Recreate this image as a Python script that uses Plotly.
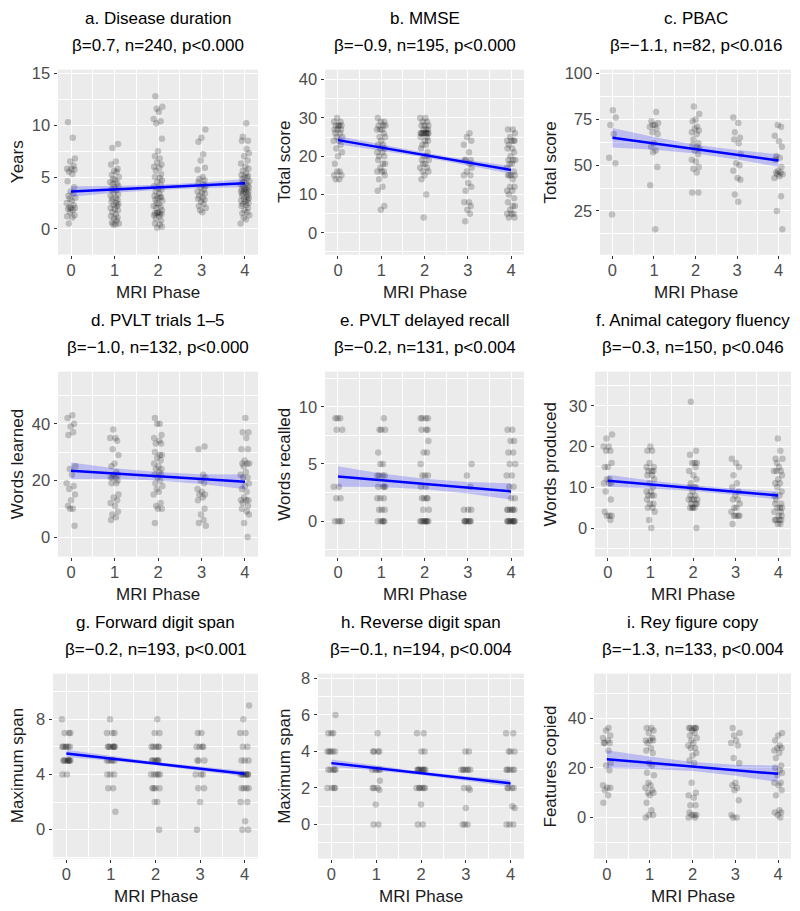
import plotly.graph_objects as go

W, H = 800, 911
CELL_H = H / 3

# values: one list per MRI phase (0..4)
DURATION = [
    [10.3, 8.8, 6.8, 6.5, 6.1, 5.8, 5.8, 5.7, 5.5, 5.3, 4.6, 4.0, 3.6, 3.4, 3.2, 3.0, 2.9, 2.7, 2.5, 2.3,
     2.1, 2.0, 2.0, 1.9, 1.8, 1.6, 1.3, 1.2, 1.1, 0.5],
    [8.2, 7.8, 6.5, 6.2, 5.8, 5.6, 5.5, 5.2, 5.0, 4.8, 4.7, 4.5, 4.4, 4.3, 4.1, 4.0, 3.8, 3.7, 3.5, 3.3,
     3.2, 3.0, 2.9, 2.8, 2.6, 2.5, 2.4, 2.3, 2.2, 2.0, 1.9, 1.8, 1.6, 1.4, 1.2, 1.1, 1.0, 0.8, 0.6, 0.5,
     0.4, 0.4],
    [12.8, 11.8, 11.6, 11.3, 10.6, 10.4, 10.2, 8.7, 7.5, 7.0, 6.8, 6.4, 6.2, 6.0, 5.9, 5.6, 5.3, 5.0, 4.9,
     4.7, 4.5, 4.3, 4.1, 3.9, 3.8, 3.6, 3.4, 3.2, 3.1, 3.0, 3.0, 2.8, 2.7, 2.5, 2.4, 2.2, 2.1, 2.0, 1.8,
     1.6, 1.5, 1.5, 1.5, 1.4, 1.3, 1.2, 1.0, 0.8, 0.5, 0.4, 0.2, 0.1],
    [9.6, 8.8, 8.4, 7.2, 6.6, 5.9, 5.7, 5.0, 4.8, 4.7, 4.5, 4.3, 4.1, 4.0, 3.8, 3.6, 3.5, 3.4, 3.2, 3.0,
     2.9, 2.8, 2.6, 2.4, 2.2, 2.0, 1.8, 1.6],
    [10.2, 8.9, 8.5, 8.5, 7.7, 7.3, 7.0, 6.6, 6.3, 6.0, 5.8, 5.6, 5.4, 5.2, 5.1, 5.0, 4.9, 4.8, 4.6, 4.5,
     4.4, 4.3, 4.2, 4.1, 4.0, 3.9, 3.8, 3.8, 3.7, 3.6, 3.6, 3.5, 3.4, 3.3, 3.2, 3.1, 3.0, 2.9, 2.8, 2.7,
     2.6, 2.5, 2.4, 2.3, 2.2, 2.0, 1.8, 1.6, 1.5, 1.3, 1.1, 0.9, 0.5],
]
MMSE = [
    [30, 29, 29, 28, 28, 28, 28, 27, 27, 27, 26, 26, 25, 25, 24, 24, 23, 22, 21, 20, 18, 16, 16, 15, 15, 14, 14],
    [30, 29, 29, 28, 28, 28, 27, 27, 27, 26, 25, 25, 24, 23, 23, 22, 22, 21, 21, 20, 20, 19, 18, 18, 17, 16,
     16, 16, 15, 14, 12, 11, 7, 6],
    [30, 30, 29, 29, 28, 28, 28, 27, 27, 27, 26, 26, 26, 26, 26, 26, 26, 26, 25, 25, 24, 24, 23, 23, 22, 21,
     20, 20, 19, 19, 18, 18, 17, 17, 16, 16, 15, 14, 10, 4],
    [26, 25, 24, 23, 21, 19, 19, 19, 18, 17, 16, 15, 15, 13, 12, 11, 8, 8, 7, 6, 5, 3],
    [27, 27, 26, 25, 24, 24, 24, 24, 23, 22, 22, 21, 20, 19, 19, 19, 18, 18, 17, 16, 15, 15, 15, 15, 14, 12,
     12, 11, 11, 10, 9, 8, 7, 7, 6, 5, 5, 5, 4, 4],
]
PBAC = [
    [80, 76, 72, 67, 54, 51, 23],
    [79, 74, 73, 72, 72, 71, 70, 68, 67, 62, 60, 58, 57, 49, 39, 15],
    [82, 78, 75, 74, 71, 70, 69, 68, 67, 64, 62, 61, 60, 59, 58, 56, 53, 52, 49, 48, 46, 35, 35],
    [76, 73, 68, 65, 64, 62, 56, 51, 50, 47, 43, 42, 34, 30],
    [72, 71, 66, 63, 60, 55, 54, 53, 49, 47, 46, 46, 45, 45, 44, 43, 33, 25, 15],
]
PVLT_LEARN = [
    [43, 42, 40, 39, 37, 36, 25, 24, 22, 19, 18, 17, 15, 13, 11, 10, 10, 4],
    [38, 35, 35, 34, 31, 29, 26, 25, 23, 22, 22, 21, 21, 21, 20, 19, 19, 15, 14, 13, 12, 11, 9, 8, 7, 6],
    [42, 40, 40, 36, 35, 34, 33, 33, 30, 29, 29, 28, 27, 26, 25, 24, 24, 23, 22, 22, 21, 20, 19, 18, 17, 16,
     15, 12, 11, 10, 10, 5],
    [32, 31, 22, 21, 20, 19, 17, 16, 15, 15, 14, 13, 10, 8, 6, 5, 4],
    [42, 37, 37, 35, 31, 31, 27, 26, 26, 26, 25, 23, 22, 21, 21, 19, 18, 17, 16, 14, 13, 13, 13, 12, 11, 10,
     9, 8, 5, 0],
]
PVLT_RECALL = [
    [9, 9, 9, 8, 8, 3, 3, 2, 2, 0, 0, 0, 0],
    [9, 8, 8, 8, 6, 5, 5, 4, 4, 4, 4, 3, 3, 3, 3, 2, 2, 2, 1, 1, 1, 0, 0, 0, 0, 0],
    [9, 9, 9, 9, 8, 8, 8, 7, 6, 6, 5, 4, 4, 4, 3, 3, 2, 2, 2, 2, 1, 1, 0, 0, 0, 0, 0, 0, 0, 0],
    [5, 4, 3, 1, 1, 1, 0, 0, 0, 0, 0, 0, 0],
    [8, 8, 7, 7, 6, 6, 5, 5, 4, 4, 3, 3, 2, 2, 1, 1, 1, 1, 1, 1, 0, 0, 0, 0, 0, 0, 0, 0, 0],
]
FLUENCY = [
    [23, 22, 20, 20, 19, 19, 16, 15, 15, 12, 12, 11, 11, 11, 9, 7, 4, 3, 3, 3, 2],
    [20, 19, 19, 16, 15, 15, 14, 14, 14, 13, 13, 12, 11, 10, 9, 9, 8, 8, 8, 7, 6, 6, 5, 5, 4, 2, 0],
    [31, 19, 18, 16, 16, 16, 15, 14, 13, 12, 11, 10, 10, 10, 9, 8, 8, 7, 7, 7, 7, 6, 6, 6, 5, 5, 5, 5, 0],
    [17, 16, 15, 13, 11, 10, 9, 8, 7, 7, 6, 5, 5, 4, 3, 3, 3, 3, 1],
    [22, 19, 17, 17, 16, 15, 14, 14, 14, 13, 12, 11, 11, 10, 9, 8, 8, 7, 6, 6, 5, 5, 5, 4, 4, 3, 3, 2, 2,
     2, 2, 1, 1],
]
FWD_SPAN = [
    [8, 7, 7, 7, 6, 6, 6, 6, 6, 6, 5, 5, 5, 5, 5, 5, 5, 5, 4, 4],
    [8, 7, 7, 7, 6, 6, 6, 6, 6, 6, 6, 5, 5, 5, 5, 5, 4, 4, 4, 3, 3, 1.3],
    [8, 7, 7, 6, 6, 6, 6, 6, 5, 5, 5, 5, 5, 5, 4, 4, 4, 4, 4, 3, 3, 3, 3, 2, 2, 0],
    [7, 7, 6, 6, 6, 6, 5, 5, 5, 4, 4, 4, 3, 3, 2, 0],
    [9, 8, 7, 7, 6, 6, 5, 5, 5, 4, 4, 4, 4, 4, 4, 4, 3, 3, 3, 3, 2, 2, 0.6, 0, 0],
]
REV_SPAN = [
    [6, 5, 5, 5, 4, 4, 4, 4, 4, 3, 3, 3, 3, 3, 2, 2, 2, 2],
    [5, 4, 4, 4, 4, 3, 3, 3, 3, 3, 2.4, 2, 2, 2, 1.9, 1.1, 0, 0],
    [5, 5, 4, 4, 3, 3, 3, 3, 3, 3, 3, 3, 2, 2, 2, 2, 2, 2, 1.1, 0, 0],
    [4, 4, 3, 3, 3, 3, 3, 3, 2, 2, 1.9, 0.9, 0, 0, 0],
    [5, 5, 4, 4, 4, 3, 3, 3, 3, 3, 2, 2, 2, 2, 1, 0.9, 0, 0, 0],
]
REY_COPY = [
    [36, 35, 33, 32, 31, 30, 30, 30, 27, 22, 21, 19, 13, 12, 12, 11, 9, 6],
    [36, 36, 35, 34, 32, 31, 31, 31, 30, 28, 27, 26, 22, 21, 18, 17, 14, 13, 12, 11, 10, 10, 9, 6, 3, 1, 1, 0],
    [36, 36, 36, 36, 36, 35, 34, 33, 32, 31, 30, 29, 28, 28, 26, 25, 23, 22, 14, 10, 9, 8, 5, 5, 2, 1, 1, 1,
     0, 0],
    [36, 34, 33, 31, 30, 29, 24, 22, 14, 13, 12, 11, 7, 1, 0, 0],
    [34, 33, 31, 29, 28, 28, 27, 26, 24, 21, 20, 19, 18, 17, 14, 14, 13, 11, 9, 3, 2, 2, 1, 0],
]

# horizontal jitter offsets (phase units)
JITTER = [-0.07, 0.04, 0.09, -0.02, 0.06, -0.09, 0.01, 0.08, -0.05, 0.03, -0.08, 0.07, -0.01, 0.05, -0.06,
          0.10, -0.03, 0.02, -0.10, 0.06, -0.04, 0.09, 0.00, -0.07, 0.04, -0.02, 0.08, -0.09, 0.03, -0.05, 0.07]

PHASES = [0, 1, 2, 3, 4]
TITLES = ["a. Disease duration", "b. MMSE", "c. PBAC", "d. PVLT trials 1–5", "e. PVLT delayed recall",
          "f. Animal category fluency", "g. Forward digit span", "h. Reverse digit span", "i. Rey figure copy"]
STATS = ["β=0.7, n=240, p<0.000", "β=−0.9, n=195, p<0.000", "β=−1.1, n=82, p<0.016",
         "β=−1.0, n=132, p<0.000", "β=−0.2, n=131, p<0.004", "β=−0.3, n=150, p<0.046",
         "β=−0.2, n=193, p<0.001", "β=−0.1, n=194, p<0.004", "β=−1.3, n=133, p<0.004"]
Y_TITLES = ["Years", "Total score", "Total score", "Words learned", "Words recalled", "Words produced",
            "Maximum span", "Maximum span", "Features copied"]

# fitted line at phase 0 and phase 4, and CI half-width at each phase
FIT_START = [3.6, 24.2, 65.0, 23.4, 3.9, 11.6, 5.52, 3.36, 23.5]
FIT_END = [4.4, 16.4, 52.5, 19.5, 2.6, 8.0, 4.05, 2.25, 17.6]
CI_HALF = [
    [0.50, 0.33, 0.25, 0.27, 0.40],
    [1.1, 0.8, 0.6, 0.75, 1.0],
    [5.3, 3.5, 2.4, 2.6, 3.4],
    [2.9, 1.9, 1.5, 1.7, 2.6],
    [0.90, 0.60, 0.45, 0.50, 0.72],
    [1.5, 1.0, 0.7, 0.75, 1.0],
    [0.26, 0.17, 0.12, 0.15, 0.20],
    [0.20, 0.14, 0.10, 0.12, 0.18],
    [3.6, 2.5, 1.8, 2.2, 3.3],
]

Y_RANGES = [[-2.5, 15.38], [-5.7, 42.6], [1.1, 102.2], [-6.9, 58.4], [-3.1, 13.07], [-7.0, 38.4],
            [-2.1, 11.3], [-1.87, 8.26], [-16.5, 57.9]]
Y_DTICK = [5, 10, 25, 20, 5, 10, 4, 2, 20]

# panel pixel box (left, right); rows share top/bottom offsets inside each cell
PANEL_LEFT = [58, 325, 600, 58, 325, 595, 53, 318, 594]
PANEL_RIGHT = [258, 524, 791]
PLOT_TOP, PLOT_BOTTOM = 65, 251

FONT = "Liberation Sans, Arial, Helvetica, sans-serif"
DATASETS = [DURATION, MMSE, PBAC, PVLT_LEARN, PVLT_RECALL, FLUENCY, FWD_SPAN, REV_SPAN, REY_COPY]

fig = go.Figure()
annotations = []

for k, data in enumerate(DATASETS):
    row, col = divmod(k, 3)
    n = "" if k == 0 else str(k + 1)
    xa, ya = "x" + n, "y" + n
    left, right = PANEL_LEFT[k], PANEL_RIGHT[col]
    top = row * CELL_H + PLOT_TOP
    bottom = row * CELL_H + PLOT_BOTTOM

    xs, ys = [], []
    for p, vals in zip(PHASES, data):
        for i, v in enumerate(vals):
            xs.append(p + JITTER[(i + 7 * p + 3 * k) % len(JITTER)])
            ys.append(v)

    fig.add_trace(go.Scatter(
        x=xs, y=ys, mode="markers", xaxis=xa, yaxis=ya, showlegend=False, hoverinfo="skip",
        marker=dict(size=6.5, color="rgba(0,0,0,0.2)", line=dict(width=0)),
    ))

    centre = [FIT_START[k] + (FIT_END[k] - FIT_START[k]) * p / 4 for p in PHASES]
    upper = [c + h for c, h in zip(centre, CI_HALF[k])]
    lower = [c - h for c, h in zip(centre, CI_HALF[k])]
    fig.add_trace(go.Scatter(
        x=PHASES + PHASES[::-1], y=upper + lower[::-1], mode="lines", fill="toself",
        fillcolor="rgba(0,0,255,0.2)", line=dict(width=0), xaxis=xa, yaxis=ya,
        showlegend=False, hoverinfo="skip",
    ))
    fig.add_trace(go.Scatter(
        x=[0, 4], y=[FIT_START[k], FIT_END[k]], mode="lines", line=dict(color="#0000FF", width=2.5),
        xaxis=xa, yaxis=ya, showlegend=False, hoverinfo="skip",
    ))

    common = dict(
        showgrid=True, gridcolor="white", gridwidth=1.1, zeroline=False, showline=False,
        ticks="outside", ticklen=3.5, tickwidth=1, tickcolor="#333333",
        tickfont=dict(family=FONT, size=16.5, color="#4D4D4D"), tickmode="linear", tick0=0,
    )
    fig.update_layout({
        ("xaxis" + n): dict(
            common, domain=[left / W, right / W], range=[-0.3, 4.3], dtick=1, anchor=ya,
            ticklabelstandoff=-3,
            minor=dict(dtick=0.5, tick0=0, showgrid=True, gridcolor="white", gridwidth=0.55),
        ),
        ("yaxis" + n): dict(
            common, domain=[1 - bottom / H, 1 - top / H], range=Y_RANGES[k], dtick=Y_DTICK[k], anchor=xa,
            minor=dict(dtick=Y_DTICK[k] / 2, tick0=0, showgrid=True, gridcolor="white", gridwidth=0.55),
        ),
    })

    cx = (left + right) / 2 / W
    cell_top = row * CELL_H
    annotations += [
        dict(text=TITLES[k], x=cx, y=1 - (cell_top + 14) / H, xref="paper", yref="paper",
             showarrow=False, font=dict(family=FONT, size=17, color="black"), xanchor="center", yanchor="middle"),
        dict(text=STATS[k], x=cx, y=1 - (cell_top + 41) / H, xref="paper", yref="paper",
             showarrow=False, font=dict(family=FONT, size=17, color="black"), xanchor="center", yanchor="middle"),
        dict(text="MRI Phase", x=cx, y=1 - (cell_top + 289) / H, xref="paper", yref="paper",
             showarrow=False, font=dict(family=FONT, size=17, color="#1A1A1A"), xanchor="center", yanchor="middle"),
        dict(text=Y_TITLES[k], x=(col * W / 3 + 17) / W, y=1 - (top + bottom) / 2 / H, xref="paper",
             yref="paper", showarrow=False, textangle=-90, font=dict(family=FONT, size=17, color="#1A1A1A"),
             xanchor="center", yanchor="middle"),
    ]

fig.update_layout(
    width=W, height=H, margin=dict(l=0, r=0, t=0, b=0),
    paper_bgcolor="white", plot_bgcolor="#EBEBEB",
    annotations=annotations, font=dict(family=FONT),
)

fig.write_html("out.html", config={"displayModeBar": False},
               post_script="document.body.style.margin='0';")
